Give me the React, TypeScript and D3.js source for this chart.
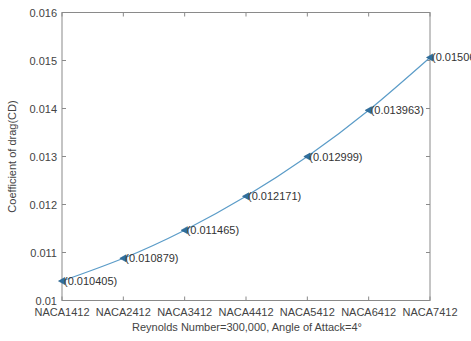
import React from "react";
import * as d3 from "d3";

const categories = ["NACA1412", "NACA2412", "NACA3412", "NACA4412", "NACA5412", "NACA6412", "NACA7412"];
const cdValues = [0.010405, 0.010879, 0.011465, 0.012171, 0.012999, 0.013963, 0.015063];
const cdLabels = ["(0.010405)", "(0.010879)", "(0.011465)", "(0.012171)", "(0.012999)", "(0.013963)", "(0.015063)"];
const yTicks = [0.01, 0.011, 0.012, 0.013, 0.014, 0.015, 0.016];
const yTickLabels = ["0.01", "0.011", "0.012", "0.013", "0.014", "0.015", "0.016"];
const xTitle = "Reynolds Number=300,000, Angle of Attack=4°";
const yTitle = "Coefficient of drag(CD)";

const W = 471, H = 341;
const L = 62, R = 430, T = 12.5, B = 300.5;

export default function App() {
  const x = d3.scalePoint<string>().domain(categories).range([L, R]);
  const y = d3.scaleLinear().domain([0.01, 0.016]).range([B, T]);
  const pts: [number, number][] = categories.map((c, i) => [x(c)!, y(cdValues[i])]);
  const line = d3.line().curve(d3.curveNatural)(pts) || "";
  const font = "'Liberation Sans', Arial, sans-serif";
  const axisColor = "#8a8a8a";
  const textColor = "#444";
  const tri = (px: number, py: number) => {
    const s = 3.5;
    return `M${px - s},${py} L${px + s * 0.8},${py - s} L${px + s * 0.8},${py + s} Z`;
  };
  return (
    <div style={{ position: "absolute", left: 0, top: 0, width: W, height: H, overflow: "hidden", background: "#fff" }}>
      <svg width={W} height={H} style={{ display: "block" }} fontFamily={font}>
        <rect x={0} y={0} width={W} height={H} fill="#fff" />
        <rect x={L} y={T} width={R - L} height={B - T} fill="none" stroke={axisColor} strokeWidth={1} />
        {categories.map((c) => (
          <g key={c}>
            <line x1={x(c)} x2={x(c)} y1={B} y2={B - 4} stroke={axisColor} />
            <line x1={x(c)} x2={x(c)} y1={T} y2={T + 4} stroke={axisColor} />
            <text x={x(c)} y={B + 15} textAnchor="middle" fontSize={11} fill={textColor}>{c}</text>
          </g>
        ))}
        {yTicks.map((t, i) => (
          <g key={t}>
            <line x1={L} x2={L + 4} y1={y(t)} y2={y(t)} stroke={axisColor} />
            <line x1={R} x2={R - 4} y1={y(t)} y2={y(t)} stroke={axisColor} />
            <text x={L - 5} y={y(t) + 4} textAnchor="end" fontSize={11} fill={textColor}>{yTickLabels[i]}</text>
          </g>
        ))}
        <path d={line} fill="none" stroke="#5b9cc8" strokeWidth={1.2} />
        {pts.map(([px, py], i) => (
          <g key={i}>
            <path d={tri(px, py)} fill="#2f6f9f" stroke="#1f5a86" strokeWidth={0.6} />
            <text x={px + 2} y={py + 4} fontSize={11} fill="#333">{cdLabels[i]}</text>
          </g>
        ))}
        <text x={(L + R) / 2 + 1} y={B + 30} textAnchor="middle" fontSize={11} fill={textColor}>{xTitle}</text>
        <text transform={`translate(16,${(T + B) / 2}) rotate(-90)`} textAnchor="middle" fontSize={11} fill={textColor}>{yTitle}</text>
      </svg>
    </div>
  );
}
